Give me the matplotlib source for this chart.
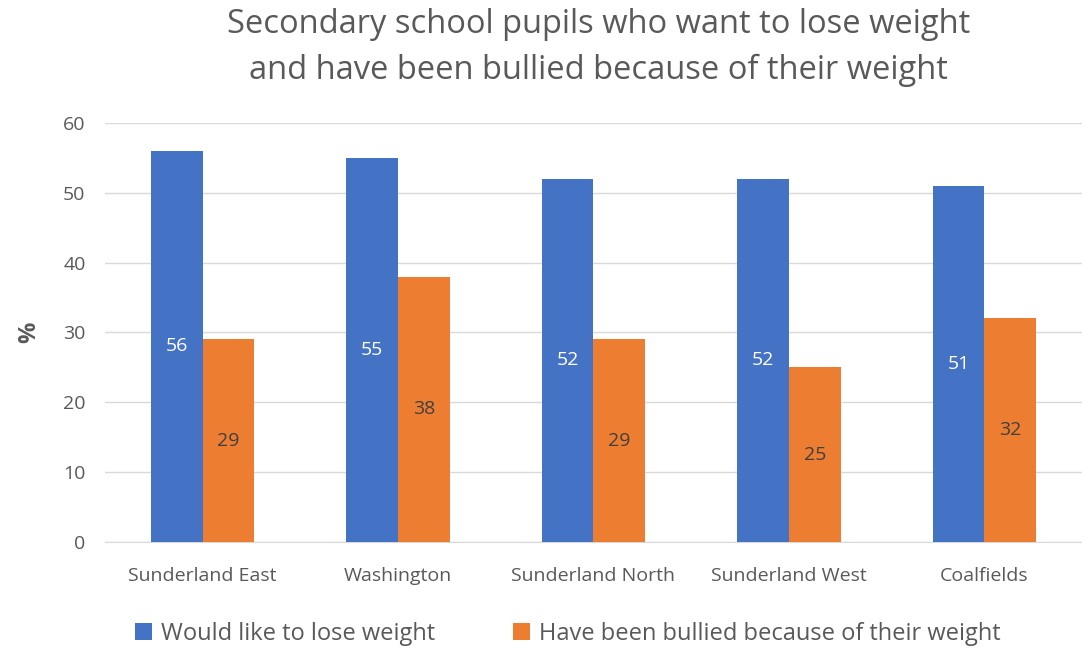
import matplotlib.pyplot as plt
import numpy as np

areas = ['Sunderland East', 'Washington', 'Sunderland North', 'Sunderland West', 'Coalfields']
lose_weight = [56, 55, 52, 52, 51]
bullied = [29, 38, 29, 25, 32]
series_names = ['Would like to lose weight', 'Have been bullied because of their weight']

blue = '#4472C4'
orange = '#ED7D31'
grey = '#595959'

plt.rcParams['font.family'] = ['Open Sans', 'DejaVu Sans']

fig = plt.figure(figsize=(10.82, 6.48), dpi=100)
ax = fig.add_axes([0.097, 0.164, 0.903, 0.646])

x = np.arange(len(areas))
w = 0.265
b1 = ax.bar(x - w / 2, lose_weight, w, color=blue, label=series_names[0], zorder=3)
b2 = ax.bar(x + w / 2, bullied, w, color=orange, label=series_names[1], zorder=3)

for rect, v in zip(b1, lose_weight):
    ax.text(rect.get_x() + rect.get_width() / 2, v / 2, str(v), ha='center', va='center',
            color='white', fontsize=14, zorder=4)
for rect, v in zip(b2, bullied):
    ax.text(rect.get_x() + rect.get_width() / 2, v / 2, str(v), ha='center', va='center',
            color='#404040', fontsize=14, zorder=4)

ax.set_xlim(-0.5, len(areas) - 0.5)
ax.set_ylim(0, 60)
ax.set_yticks(range(0, 61, 10))
ax.set_xticks(x)
ax.set_xticklabels(areas)
ax.tick_params(axis='both', length=0, labelsize=14, colors=grey)
ax.tick_params(axis='x', pad=18)
ax.tick_params(axis='y', pad=14)
ax.yaxis.grid(True, color='#D9D9D9', linewidth=1, zorder=0)
for s in ['top', 'right', 'left']:
    ax.spines[s].set_visible(False)
ax.spines['bottom'].set_color('#D9D9D9')

ax.set_ylabel('%', fontsize=17, fontweight='bold', color=grey, labelpad=16)

fig.text(0.553, 0.927, 'Secondary school pupils who want to lose weight\nand have been bullied because of their weight',
         ha='center', va='center', fontsize=23.5, color=grey, linespacing=1.5)

fig.legend(handles=[b1, b2], loc='center', bbox_to_anchor=(0.525, 0.022), ncol=2, frameon=False,
           fontsize=17, labelcolor=grey, handlelength=0.7, handleheight=0.7, handletextpad=0.4,
           columnspacing=3.3)

fig.savefig('out.png', dpi=100)
